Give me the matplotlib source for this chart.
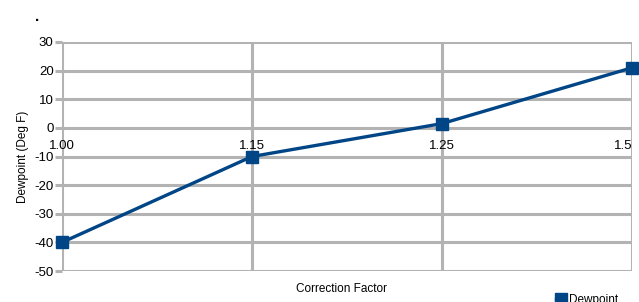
import matplotlib
matplotlib.use("Agg")
import matplotlib.pyplot as plt

# 補正係数ごとの露点(Deg F)
factors = ["1.00", "1.15", "1.25", "1.5"]
dewpoint = [-40, -10, 1.5, 21]
y_ticks = [-50, -40, -30, -20, -10, 0, 10, 20, 30]

BLUE = "#004586"
GRID = "#b3b3b3"

plt.rcParams["font.family"] = ["Liberation Sans", "DejaVu Sans"]
plt.rcParams["axes.unicode_minus"] = False

fig = plt.figure(figsize=(6.39, 3.02), dpi=100)
ax = fig.add_axes([62 / 639, 1 - 271 / 302, 570 / 639, 229 / 302])

xs = list(range(len(factors)))
ax.plot(xs, dewpoint, color=BLUE, lw=2.4, marker="s", ms=9,
        label="Dewpoint", clip_on=False, zorder=3)

ax.set_xlim(0, len(factors) - 1)
ax.set_ylim(-50, 30)
ax.set_yticks(y_ticks)
ax.set_xticks(xs)
ax.set_xticklabels(factors)
ax.grid(True, color=GRID, lw=2.2)
ax.set_axisbelow(True)

for side in ("top", "right", "left"):
    ax.spines[side].set_visible(False)
ax.spines["bottom"].set_position(("data", 0))
ax.spines["bottom"].set_visible(False)
ax.tick_params(axis="x", length=0, pad=9, labelsize=9.5)
ax.tick_params(axis="y", length=5, width=2.2, color=GRID, pad=1, labelsize=9.5)

# 右端ラベルは枠内に収める
labels = ax.get_xticklabels()
labels[-1].set_horizontalalignment("right")

ax.set_ylabel("Dewpoint (Deg F)", fontsize=8.5, labelpad=4)
fig.text(341 / 639, 1 - 289 / 302, "Correction Factor", ha="center",
         va="center", fontsize=8.5)
fig.text(37 / 639, 1 - 17 / 302, ".", ha="center", va="center",
         fontsize=11, fontweight="bold")

# 凡例は参照画像と同じく下端で一部切れる
fig.legend(loc="upper left", bbox_to_anchor=(556 / 639, 1 - 294 / 302),
           frameon=False, fontsize=8.5, handlelength=0.8, handletextpad=0.3,
           borderaxespad=0, borderpad=0)

fig.savefig("out.png", dpi=100)
